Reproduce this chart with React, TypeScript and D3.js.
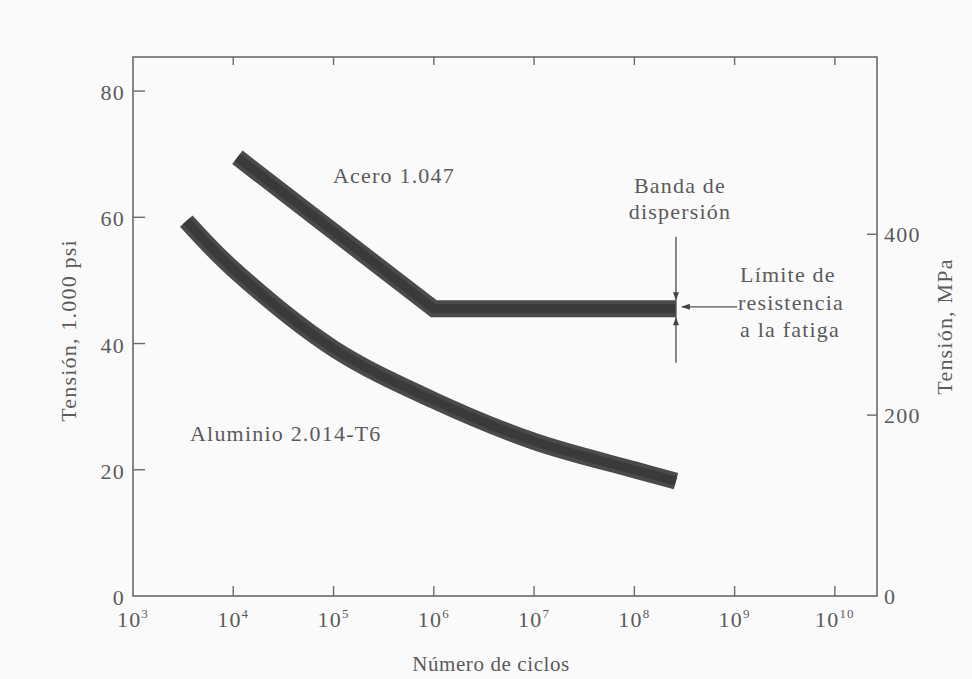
import * as d3 from 'd3';

// Curva S-N: tensión (ksi) frente a número de ciclos (escala log)
const alumN = [3.4e3, 1e4, 1e5, 1e6, 1e7, 1e8, 2.6e8];
const alumS = [59.4, 51.8, 39.2, 31.0, 24.5, 20.0, 18.2];
const steelN = [1.1e4, 1e6, 2.6e8];
const steelS = [69.5, 45.5, 45.5];

const xExponents = [3, 4, 5, 6, 7, 8, 9, 10];
const yTicksKsi = [0, 20, 40, 60, 80];
const yTicksMPa = [0, 200, 400];

const W = 972;
const H = 679;
const margin = { top: 57, right: 95, bottom: 83, left: 133 };
const FONT = '"Liberation Serif", "Times New Roman", serif';
const TXT = '#5a5a5a';
const AX = '#6a6a6a';

export default function App() {
  const x = d3.scaleLog().domain([1e3, Math.pow(10, 10.42)]).range([margin.left, W - margin.right]);
  const yL = d3.scaleLinear().domain([0, 85.4]).range([H - margin.bottom, margin.top]);
  const yR = d3.scaleLinear().domain([0, 596]).range([H - margin.bottom, margin.top]);

  const x0 = margin.left;
  const x1 = W - margin.right;
  const y0 = H - margin.bottom;
  const y1 = margin.top;

  const alumLine = d3
    .line<number>()
    .x((_, i) => x(alumN[i]))
    .y((d) => yL(d))
    .curve(d3.curveCatmullRom.alpha(0.5));
  const steelLine = d3
    .line<number>()
    .x((_, i) => x(steelN[i]))
    .y((d) => yL(d));

  const bandW = 17;
  const endX = x(steelN[steelN.length - 1]);
  const endY = yL(steelS[steelS.length - 1]);

  const textProps = { fontFamily: FONT, fontSize: 22, fill: TXT, letterSpacing: 1.2 };

  return (
    <svg width={W} height={H} style={{ position: 'absolute', left: 0, top: 0, background: '#fafafa' }}>
      {/* frame */}
      <rect x={x0} y={y1} width={x1 - x0} height={y0 - y1} fill="none" stroke={AX} strokeWidth={1.6} />

      {/* x ticks, bottom and top */}
      {xExponents.slice(1).map((e) => (
        <g key={`xt${e}`}>
          <line x1={x(10 ** e)} x2={x(10 ** e)} y1={y0} y2={y0 - 10} stroke={AX} strokeWidth={1.4} />
          <line x1={x(10 ** e)} x2={x(10 ** e)} y1={y1} y2={y1 + 8} stroke={AX} strokeWidth={1.4} />
        </g>
      ))}
      {xExponents.map((e) => (
        <text key={`xl${e}`} x={x(10 ** e)} y={y0 + 31} textAnchor="middle" {...textProps}>
          10
          <tspan fontSize={13} dy={-9}>
            {e}
          </tspan>
        </text>
      ))}

      {/* left axis */}
      {yTicksKsi.map((t) => (
        <g key={`yl${t}`}>
          {t > 0 && <line x1={x0} x2={x0 + 12} y1={yL(t)} y2={yL(t)} stroke={AX} strokeWidth={1.4} />}
          <text x={x0 - 8} y={yL(t) + 9} textAnchor="end" {...textProps}>
            {t}
          </text>
        </g>
      ))}

      {/* right axis */}
      {yTicksMPa.map((t) => (
        <g key={`yr${t}`}>
          {t > 0 && <line x1={x1} x2={x1 - 10} y1={yR(t)} y2={yR(t)} stroke={AX} strokeWidth={1.4} />}
          <text x={x1 + 7} y={yR(t) + 8} textAnchor="start" {...textProps}>
            {t}
          </text>
        </g>
      ))}

      {/* axis titles */}
      <text x={491} y={671} textAnchor="middle" {...textProps} fontSize={21} letterSpacing={0.6}>
        Número de ciclos
      </text>
      <text
        transform={`translate(76,${(y0 + y1) / 2 + 4}) rotate(-90)`}
        textAnchor="middle"
        {...textProps}
      >
        Tensión, 1.000 psi
      </text>
      <text
        transform={`translate(952,${(y0 + y1) / 2}) rotate(-90)`}
        textAnchor="middle"
        {...textProps}
      >
        Tensión, MPa
      </text>

      {/* bands */}
      {[alumLine(alumS) ?? '', steelLine(steelS) ?? ''].map((d, i) => (
        <g key={`band${i}`}>
          <path d={d} fill="none" stroke="#4a4a4a" strokeWidth={bandW} strokeLinejoin="miter" strokeLinecap="butt" />
          <path d={d} fill="none" stroke="#3a3a3a" strokeWidth={9} strokeLinejoin="miter" strokeLinecap="butt" />
        </g>
      ))}

      {/* scatter band arrows */}
      <line x1={endX} x2={endX} y1={endY - 72} y2={endY + 54} stroke="#555" strokeWidth={1.4} />
      <path d={`M${endX},${endY - bandW / 2} l-3,-8 l6,0 z`} fill="#444" />
      <path d={`M${endX},${endY + bandW / 2} l-3,8 l6,0 z`} fill="#444" />
      <line x1={endX + 6} x2={737} y1={endY - 2} y2={endY - 2} stroke="#555" strokeWidth={1.4} />
      <path d={`M${endX + 5},${endY - 2} l9,-3 l0,6 z`} fill="#444" />

      {/* labels */}
      <text x={333} y={183} {...textProps}>
        Acero 1.047
      </text>
      <text x={190} y={441} {...textProps}>
        Aluminio 2.014-T6
      </text>
      <text x={680} y={193} textAnchor="middle" {...textProps}>
        Banda de
      </text>
      <text x={680} y={219} textAnchor="middle" {...textProps}>
        dispersión
      </text>
      <text x={740} y={282} {...textProps}>
        Límite de
      </text>
      <text x={738} y={310} {...textProps}>
        resistencia
      </text>
      <text x={740} y={337} {...textProps}>
        a la fatiga
      </text>
    </svg>
  );
}
